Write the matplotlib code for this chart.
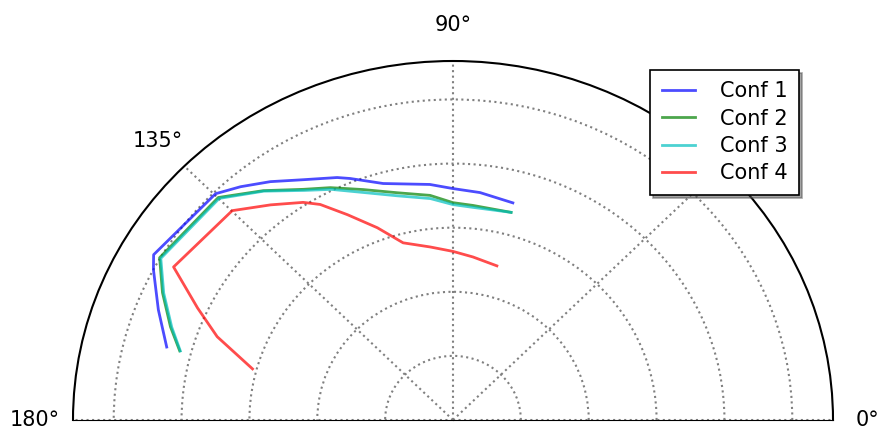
import numpy as np
import matplotlib.pyplot as plt

# angles (deg) and radii
theta1 = [164.9, 158.4, 152.0, 149.7, 134.75, 130.7, 125.9, 120.5, 114.3, 111.9, 105.6, 95.3, 90.0, 83.6, 75.4]
r1 = [4.37, 4.67, 5.00, 5.11, 4.97, 4.80, 4.59, 4.35, 4.15, 4.06, 3.83, 3.69, 3.61, 3.57, 3.50]

theta2 = [165.0, 160.75, 155.1, 149.65, 134.9, 128.0, 121.5, 116.5, 110.2, 103.1, 95.5, 90.0, 85.0, 75.2]
r2 = [4.17, 4.41, 4.72, 5.01, 4.90, 4.54, 4.22, 4.05, 3.83, 3.64, 3.52, 3.39, 3.36, 3.35]

theta3 = [165.0, 160.75, 155.1, 149.65, 134.9, 128.0, 121.5, 116.5, 110.2, 103.1, 95.5, 90.0, 85.0, 75.2]
r3 = [4.16, 4.39, 4.70, 4.99, 4.88, 4.53, 4.20, 4.02, 3.78, 3.59, 3.47, 3.36, 3.33, 3.35]

theta4 = [164.9, 159.5, 155.1, 149.9, 134.9, 128.7, 123.05, 120.2, 115.9, 110.4, 104.9, 97.1, 90.0, 83.4, 74.95]
r4 = [3.06, 3.71, 4.15, 4.76, 4.61, 4.30, 4.05, 3.89, 3.56, 3.20, 2.86, 2.72, 2.63, 2.56, 2.49]

labels = ['Conf 1', 'Conf 2', 'Conf 3', 'Conf 4']
colors = ['b', 'g', 'c', 'r']
angle_ticks = [0, 45, 90, 135, 180]
# 45 deg label sits under the legend in the reference, so it is not shown
angle_labels = {0: '0°', 90: '90°', 135: '135°', 180: '180°'}
rmax = 5.6

fig = plt.figure(figsize=(8.8, 4.3), dpi=100)
ax = fig.add_axes([73 / 880, -169.5 / 430, 760 / 880, 718 / 430], projection='polar')
ax.set_thetamin(0)
ax.set_thetamax(180)
ax.set_aspect('auto')

for th, r, lab, c in zip([theta1, theta2, theta3, theta4], [r1, r2, r3, r4], labels, colors):
    ax.plot(np.deg2rad(th), r, color=c, alpha=0.7, lw=2, label=lab)

ax.set_rlim(0, rmax)
ax.set_rgrids([1, 2, 3, 4, 5], labels=[''] * 5)
ax.set_thetagrids(angle_ticks, labels=[''] * len(angle_ticks))
ax.grid(True, color='0.5', linestyle=':', lw=1.5)
ax.spines['polar'].set_linewidth(1.5)
ax.spines['start'].set_visible(False)
ax.spines['end'].set_visible(False)

for a, txt in angle_labels.items():
    frac = 1.09 if a == 0 else 1.1
    ax.text(np.deg2rad(a), frac * rmax, txt, ha='center', va='center',
            fontsize=15, clip_on=False)

leg = ax.legend(loc='upper right', bbox_to_anchor=(799 / 880, 1 - 70 / 430),
                bbox_transform=fig.transFigure, borderaxespad=0, fontsize=15,
                fancybox=False, shadow=True, framealpha=1, handlelength=1.6,
                handletextpad=1.2, labelspacing=0.35, borderpad=0.55)
leg.get_frame().set_edgecolor('k')
leg.get_frame().set_linewidth(1.2)

fig.savefig('out.png', dpi=100)
